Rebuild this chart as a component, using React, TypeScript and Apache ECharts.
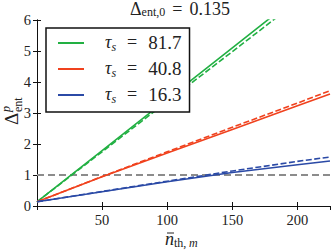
import React, { useEffect, useRef } from "react";
import * as echarts from "echarts";

const nTh = [0, 50, 100, 150, 200, 225];
const tauLabels = ["81.7", "40.8", "16.3"];
const greenSolid = [0.135, 1.79, 3.45, 5.1, 6.76, 7.58];
const greenDashed = [0.135, 1.75, 3.37, 4.98, 6.6, 7.4];
const redSolid = [0.135, 0.94, 1.71, 2.47, 3.23, 3.61];
const redDashed = [0.135, 0.95, 1.75, 2.54, 3.32, 3.72];
const blueSolid = [0.135, 0.46, 0.78, 1.08, 1.33, 1.45];
const blueDashed = [0.135, 0.47, 0.8, 1.13, 1.44, 1.58];
const threshold = 1;
const xRange = [0, 225];
const yRange = [0, 6];

const colors = ["#22b043", "#f0421e", "#2b4aa6"];
const FONT = "Liberation Serif";

export default function App() {
  const ref = useRef<HTMLDivElement>(null);
  useEffect(() => {
    if (!ref.current) return;
    const chart = echarts.init(ref.current, undefined, { renderer: "svg" });
    const pair = (ys: number[]) => nTh.map((x, i) => [x, ys[i]]);
    const solids = [greenSolid, redSolid, blueSolid];
    const dashes = [greenDashed, redDashed, blueDashed];
    const series: any[] = [];
    solids.forEach((s, i) => {
      series.push({
        type: "line",
        name: tauLabels[i],
        data: pair(s),
        symbol: "none",
        lineStyle: { color: colors[i], width: 1.6 },
        itemStyle: { color: colors[i] },
        clip: true,
        z: 3,
      });
      series.push({
        type: "line",
        data: pair(dashes[i]),
        symbol: "none",
        lineStyle: { color: colors[i], width: 1.6, type: [6, 2.5] },
        clip: true,
        z: 3,
      });
    });
    series.push({
      type: "line",
      data: [
        [xRange[0], threshold],
        [xRange[1], threshold],
      ],
      symbol: "none",
      lineStyle: { color: "#8c8c8c", width: 1.8, type: [7, 4] },
      z: 2,
    });
    const axisCommon = {
      axisLine: { show: true, lineStyle: { color: "#111", width: 1 } },
      axisTick: { show: true, inside: true, length: 4, lineStyle: { color: "#111" } },
      splitLine: { show: false },
    };
    chart.setOption({
      animation: false,
      textStyle: { fontFamily: FONT },
      grid: { left: 37, right: 2, top: 20, bottom: 45 },
      xAxis: [
        {
          type: "value",
          min: xRange[0],
          max: xRange[1],
          interval: 50,
          ...axisCommon,
          axisLabel: {
            showMinLabel: false,
            showMaxLabel: false,
            fontSize: 14.5,
            color: "#222",
            fontFamily: FONT,
            margin: 6,
          },
        },
        {
          type: "value",
          position: "top",
          min: xRange[0],
          max: xRange[1],
          interval: 50,
          ...axisCommon,
          axisLabel: { show: false },
        },
      ],
      yAxis: [
        {
          type: "value",
          min: yRange[0],
          max: yRange[1],
          interval: 1,
          ...axisCommon,
          axisLabel: { fontSize: 14.5, color: "#222", fontFamily: FONT, margin: 6 },
        },
        {
          type: "value",
          position: "right",
          min: yRange[0],
          max: yRange[1],
          interval: 1,
          ...axisCommon,
          axisLabel: { show: false },
        },
      ],
      legend: {
        data: tauLabels,
        orient: "vertical",
        left: 46,
        top: 28,
        padding: [5, 8, 7, 12],
        itemGap: 6,
        itemWidth: 26,
        itemHeight: 2,
        icon: "rect",
        backgroundColor: "#fff",
        borderColor: "#111",
        borderWidth: 1.5,
        borderRadius: 0,
        formatter: (name: string) => `{t|τ}{s|s}{e|=}{n|${name}}`,
        textStyle: {
          fontFamily: FONT,
          fontSize: 18,
          color: "#222",
          rich: {
            t: { fontSize: 18, fontStyle: "italic", fontFamily: FONT, padding: [0, 0, 0, 16], verticalAlign: "top", lineHeight: 20 },
            s: { fontSize: 12, fontStyle: "italic", fontFamily: FONT, verticalAlign: "bottom", lineHeight: 12 },
            e: { fontSize: 18, fontFamily: FONT, padding: [0, 11, 0, 11], verticalAlign: "top", lineHeight: 20 },
            n: { fontSize: 19, fontFamily: FONT, verticalAlign: "top", lineHeight: 20 },
          },
        },
      },
      graphic: [
        {
          type: "text",
          left: 130,
          top: 0,
          style: {
            text: "{a|Δ}{b|ent,0}{e|=}{c|0.135}",
            fill: "#222",
            rich: {
              a: { fontSize: 18, fontFamily: FONT, verticalAlign: "top", lineHeight: 18 },
              b: { fontSize: 12, fontFamily: FONT, verticalAlign: "bottom", lineHeight: 10 },
              e: { fontSize: 18, fontFamily: FONT, verticalAlign: "top", lineHeight: 18, padding: [0, 7, 0, 7] },
              c: { fontSize: 18, fontFamily: FONT, verticalAlign: "top", lineHeight: 18 },
            },
          },
        },
        {
          type: "group",
          x: 21,
          y: 125,
          rotation: Math.PI / 2,
          children: [
            { type: "text", x: 0, y: 0, style: { text: "Δ", fontSize: 19, fontFamily: FONT, fill: "#222", verticalAlign: "bottom" } },
            { type: "text", x: 13, y: -9, style: { text: "p", fontSize: 12, fontStyle: "italic", fontFamily: FONT, fill: "#222", verticalAlign: "bottom" } },
            { type: "text", x: 13, y: 3, style: { text: "ent", fontSize: 12, fontFamily: FONT, fill: "#222", verticalAlign: "bottom" } },
          ],
        },
        {
          type: "group",
          x: 165,
          y: 230,
          children: [
            { type: "text", x: 0, y: 0, style: { text: "n", fontSize: 18, fontStyle: "italic", fontFamily: FONT, fill: "#222" } },
            { type: "line", shape: { x1: 2, y1: 3, x2: 9, y2: 3 }, style: { stroke: "#222", lineWidth: 1 } },
            { type: "text", x: 9, y: 7, style: { text: "th,", fontSize: 12, fontFamily: FONT, fill: "#222" } },
            { type: "text", x: 24, y: 7, style: { text: "m", fontSize: 12, fontStyle: "italic", fontFamily: FONT, fill: "#222" } },
          ],
        },
      ],
      series,
    });
    return () => chart.dispose();
  }, []);
  return <div ref={ref} style={{ width: 332, height: 251, position: "absolute", left: 0, top: 0 }} />;
}
